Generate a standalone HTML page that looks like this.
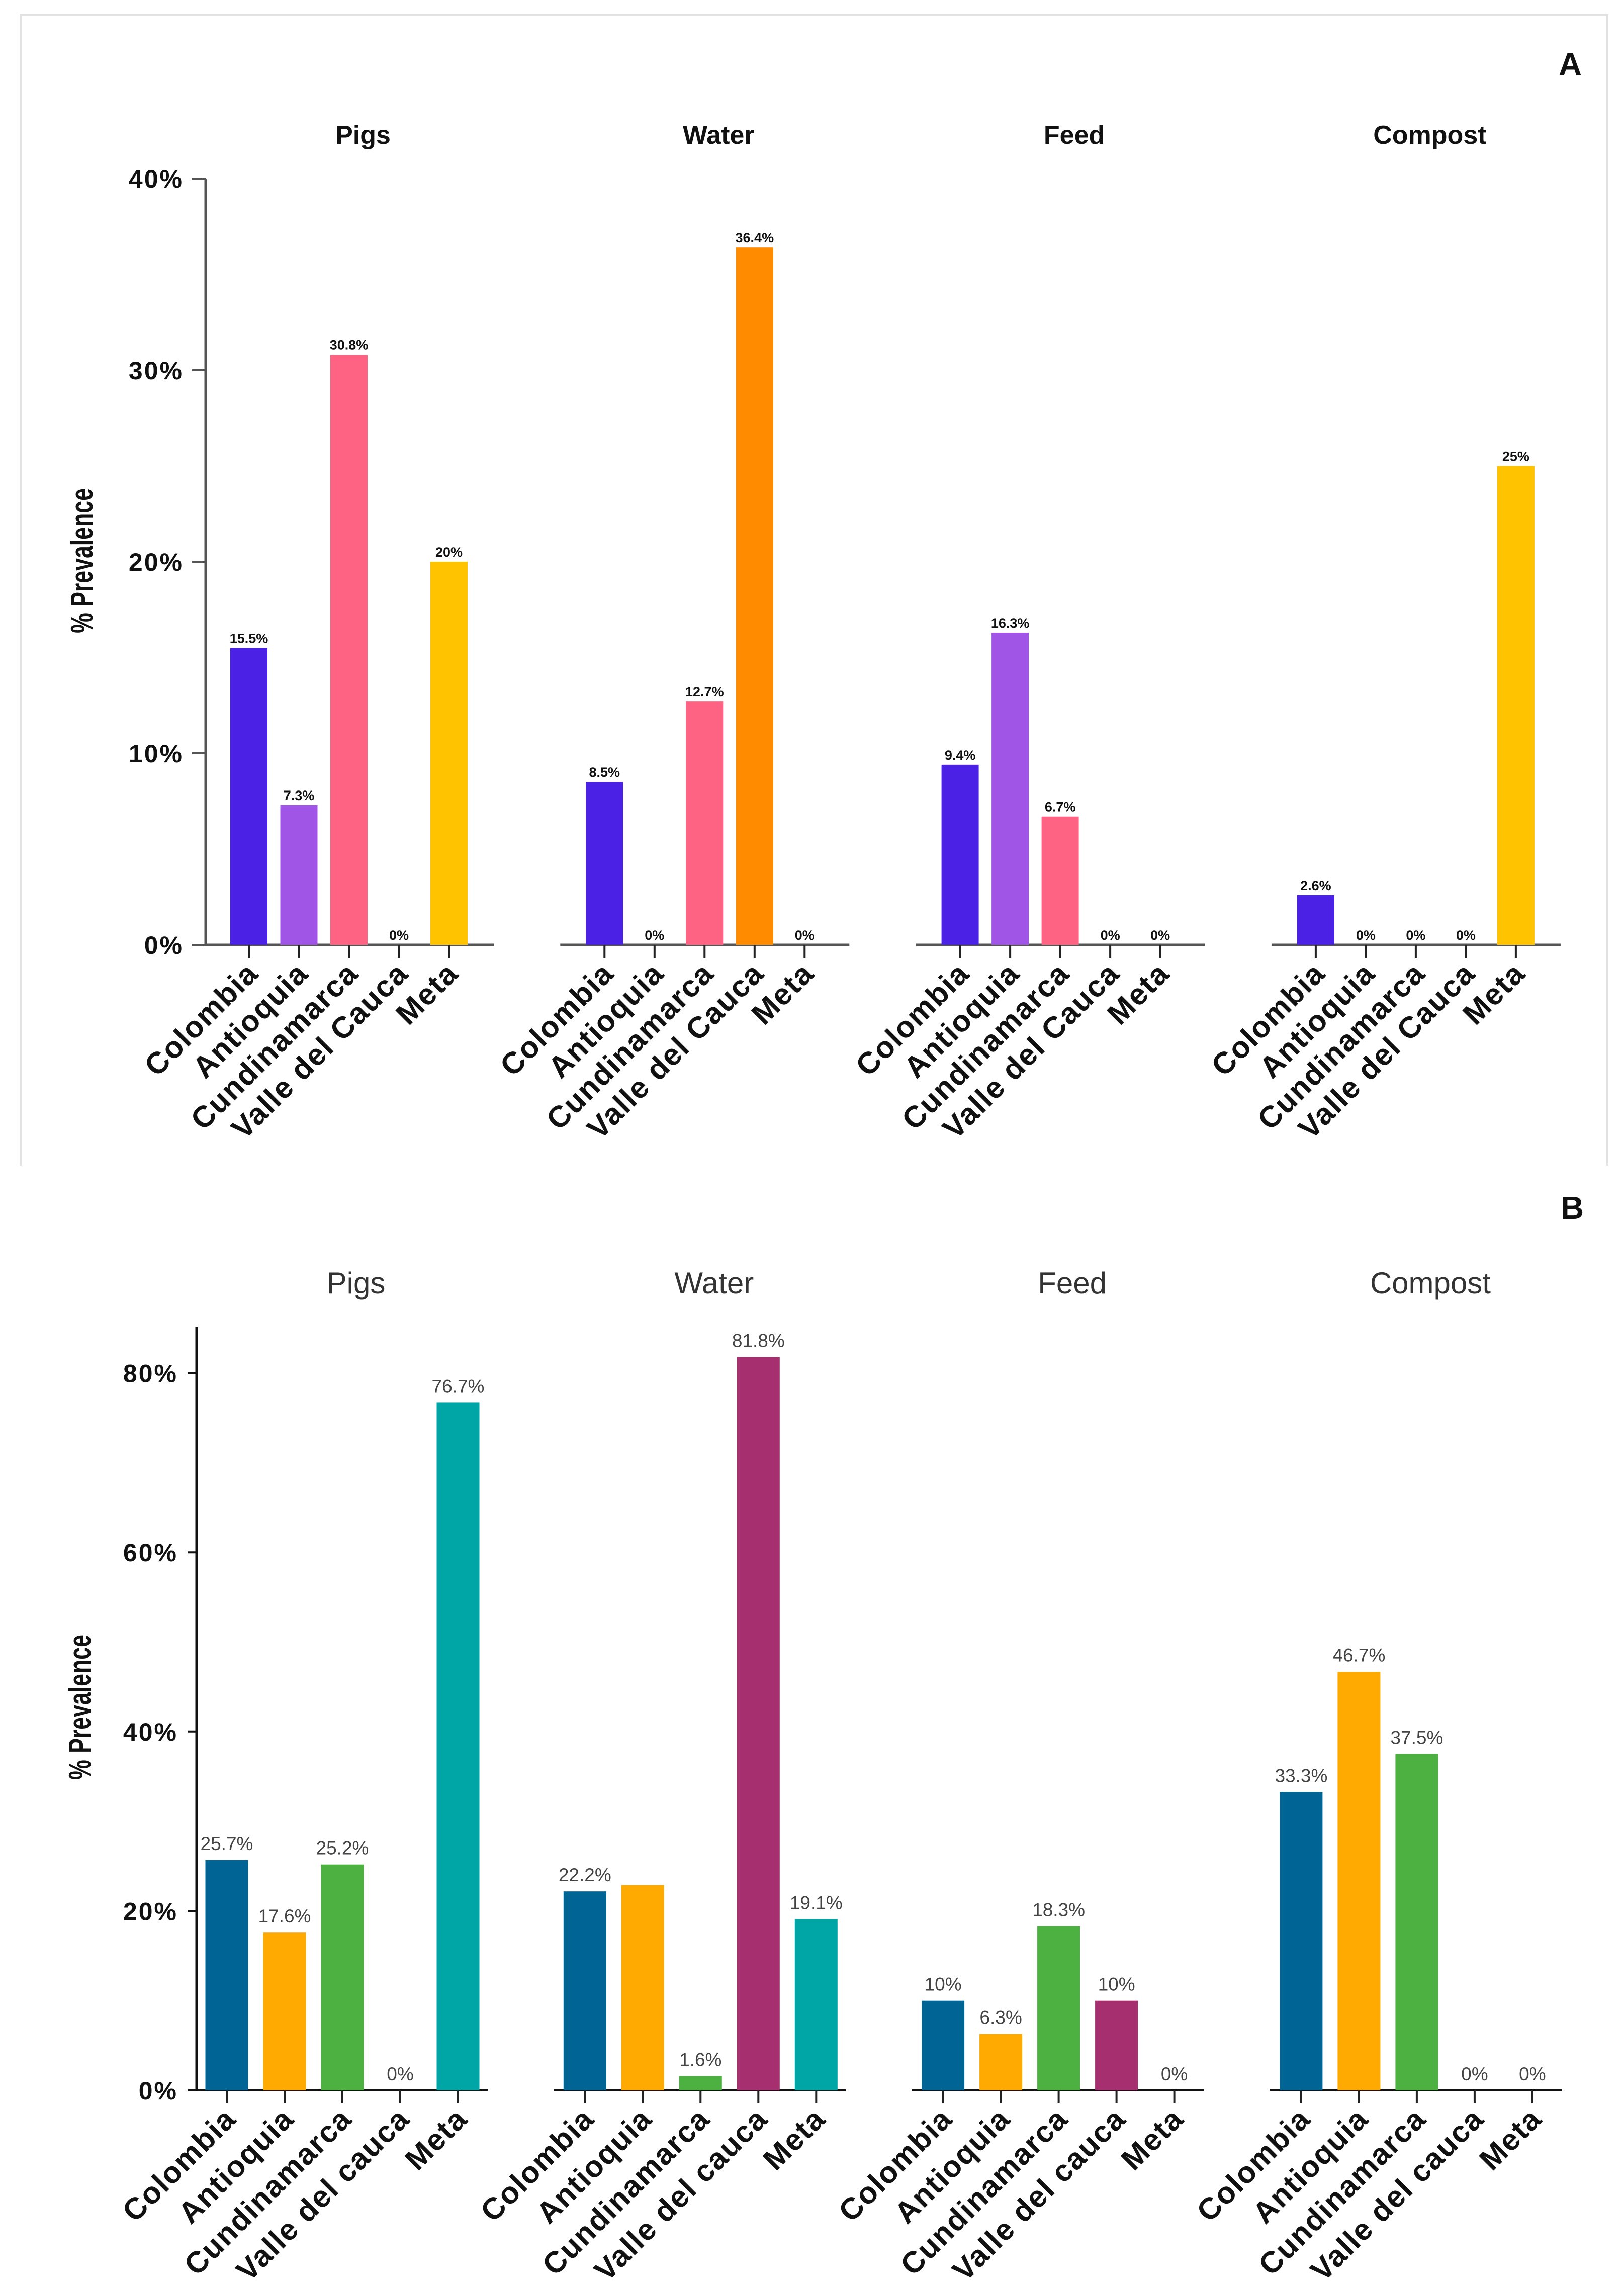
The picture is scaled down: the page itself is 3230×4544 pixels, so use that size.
<!DOCTYPE html>
<html><head><meta charset="utf-8"><style>
html,body{margin:0;padding:0;background:#fff}
svg{display:block}
text{font-family:"Liberation Sans",sans-serif}
</style></head><body>
<svg id="chart" width="3230" height="4544" viewBox="0 0 3230 4544" xmlns="http://www.w3.org/2000/svg">
<path d="M41 2318 V30 H3197 V2318" fill="none" stroke="#e2e2e2" stroke-width="4"/>
<text x="3123" y="150" font-size="64" font-weight="bold" text-anchor="middle" fill="#111">A</text>
<text x="3127" y="2424" font-size="64" font-weight="bold" text-anchor="middle" fill="#111">B</text>
<g id="gA"></g>
<g id="gB"></g>
</svg>
<script>
const categoriesA = ["Colombia","Antioquia","Cundinamarca","Valle del Cauca","Meta"];
const categoriesB = ["Colombia","Antioquia","Cundinamarca","Valle del cauca","Meta"];
const panelTitles = ["Pigs","Water","Feed","Compost"];
const pigsA = [15.5, 7.3, 30.8, 0, 20];
const waterA = [8.5, 0, 12.7, 36.4, 0];
const feedA = [9.4, 16.3, 6.7, 0, 0];
const compostA = [2.6, 0, 0, 0, 25];
const colorsA = ["#4b22e5","#a155e6","#ff6384","#ff8c00","#ffc300"];
const pigsB = [25.7, 17.6, 25.2, 0, 76.7];
const waterB = [22.2, 22.9, 1.6, 81.8, 19.1];
const feedB = [10, 6.3, 18.3, 10, 0];
const compostB = [33.3, 46.7, 37.5, 0, 0];
const labelsWaterB = ["22.2%","","1.6%","81.8%","19.1%"];
const colorsB = ["#006494","#ffaa00","#4cb140","#a6306f","#00a6a6"];
const ticksA = [0,10,20,30,40];
const ticksB = [0,20,40,60,80];

const NS="http://www.w3.org/2000/svg";
function mk(tag, attrs, parent){const e=document.createElementNS(NS,tag);for(const k in attrs)e.setAttribute(k,attrs[k]);parent.appendChild(e);return e;}
function fmt(v){return (Math.round(v*10)/10)+"%";}

function drawPanelSet(g, cfg){
  const yScale = v => cfg.y0 - v*cfg.pxPer;
  cfg.series.forEach((vals, p) => {
    const ax = cfg.axisX0 + p*cfg.panelStep;
    const title = mk("text",{x:ax+cfg.titleDx,y:cfg.titleY,"font-size":cfg.titleSize,"font-weight":cfg.titleWeight,"text-anchor":"middle",fill:cfg.titleColor},g);
    title.textContent = panelTitles[p];
    
    
    if(p===0){
      const yl = mk("line",{x1:ax,x2:ax,y1:cfg.axisTop,y2:cfg.y0+2,stroke:cfg.axisColor,"stroke-width":5},g);
      
      
      cfg.ticks.forEach(t=>{
        const y=yScale(t);
        const tl=mk("line",{x1:ax-cfg.yTickLen,x2:ax,y1:y,y2:y,stroke:cfg.axisColor,"stroke-width":4},g);
        
        
        const tt=mk("text",{x:cfg.tickRight,y:y+18,"font-size":50,"font-weight":"bold","text-anchor":"end",fill:"#111","letter-spacing":"3"},g);
        tt.textContent=t+"%";
        
        
      });
      const yt=mk("text",{x:0,y:0,"font-size":62,"font-weight":"bold","text-anchor":"middle",fill:"#111",transform:`translate(${cfg.yTitleX},${cfg.yTitleY}) rotate(-90) scale(0.72,1)`},g);
      yt.textContent="% Prevalence";
      
      
    }
    const xl=mk("line",{x1:ax-2,x2:ax+cfg.axisLen,y1:cfg.y0,y2:cfg.y0,stroke:cfg.axisColor,"stroke-width":cfg.xAxisW},g);
    
    
    vals.forEach((v,j)=>{
      const cx = ax + cfg.firstDx + j*cfg.step;
      const top = yScale(v);
      if(v>0){
        const r=mk("rect",{x:cx-cfg.barW/2,y:top,width:cfg.barW,height:cfg.y0-top,fill:cfg.colors[j]},g);
        
        
      }
      const tk=mk("line",{x1:cx,x2:cx,y1:cfg.y0,y2:cfg.y0+26,stroke:"#222","stroke-width":4},g);
      
      
      const lab = cfg.labels && cfg.labels[p] ? cfg.labels[p][j] : fmt(v);
      if(lab){
        const vt=mk("text",{x:cx,y:top-cfg.valGap,"font-size":cfg.valSize,"font-weight":cfg.valWeight,"text-anchor":"middle",fill:cfg.valColor},g);
        vt.textContent=lab;
        
        
      }
      const ct=mk("text",{x:0,y:0,"font-size":60,"font-weight":"bold","text-anchor":"end",fill:"#111","letter-spacing":"2",transform:`translate(${cx+22},${cfg.y0+60}) rotate(-45)`},g);
      ct.textContent=cfg.cats[j];
      
      
    });
  });
}

drawPanelSet(document.getElementById("gA"),{
  series:[pigsA,waterA,feedA,compostA], colors:colorsA, cats:categoriesA, ticks:ticksA,
  y0:1879, pxPer:38.1, axisTop:355, axisX0:409, panelStep:707.3, axisLen:573,
  firstDx:86, step:99.5, barW:74, yTickLen:27, tickRight:365, axisColor:"#555", xAxisW:5,
  titleDx:313, titleY:286, titleSize:52, titleWeight:"bold", titleColor:"#111",
  valGap:10, valSize:27, valWeight:"bold", valColor:"#111",
  yTitleX:184, yTitleY:1115
});
drawPanelSet(document.getElementById("gB"),{
  series:[pigsB,waterB,feedB,compostB], colors:colorsB, cats:categoriesB, ticks:ticksB,
  labels:[null,labelsWaterB,null,null],
  y0:4157, pxPer:17.83, axisTop:2639, axisX0:391, panelStep:712.3, axisLen:579,
  firstDx:60, step:115, barW:85, yTickLen:18, tickRight:354, axisColor:"#111", xAxisW:4,
  titleDx:317, titleY:2572, titleSize:60, titleWeight:"normal", titleColor:"#333",
  valGap:20, valSize:37, valWeight:"normal", valColor:"#444",
  yTitleX:180, yTitleY:3395
});
</script>
</body></html>
